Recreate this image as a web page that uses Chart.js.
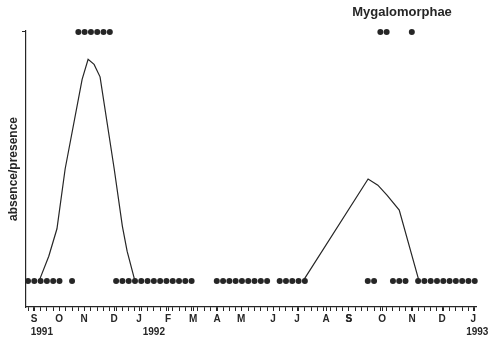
<!DOCTYPE html>
<html>
<head>
<meta charset="utf-8">
<script src="https://cdn.jsdelivr.net/npm/chart.js@4"></script>
<style>
  html, body { margin: 0; padding: 0; background: #fff; }
  canvas { display: block; }
</style>
</head>
<body>
<canvas id="c" width="494" height="340"></canvas>
<script>
// x unit = sampling week, counted from the first sample (late Aug 1991)
const absenceWeeks = [0, 1, 2, 3, 4, 5, 7, 14, 15, 16, 17, 18, 19, 20, 21, 22, 23, 24, 25, 26,
  30, 31, 32, 33, 34, 35, 36, 37, 38, 40, 41, 42, 43, 44, 54, 55, 58, 59, 60,
  62, 63, 64, 65, 66, 67, 68, 69, 70, 71];
const presenceWeeks = [8, 9, 10, 11, 12, 13, 56, 57, 61];

// smoothed curve (null breaks the line between the two humps)
const lineWeeks  = [1.75, 3.3, 4.6, 5.9, 8.6, 9.55, 10.5, 11.45, 13.7, 15.0, 15.75, 17.0, 30, 43.7, 54.05, 55.6, 57.05, 59.0, 62.15];
const lineValues = [0, 0.1, 0.21, 0.45, 0.81, 0.89, 0.87, 0.82, 0.45, 0.22, 0.12, 0, null, 0, 0.41, 0.385, 0.345, 0.285, 0];

const monthWeeks  = [0.95, 4.93, 8.9, 13.67, 17.65, 22.26, 26.23, 30.05, 33.86, 38.95, 42.77, 47.38, 51.0, 56.3, 61.05, 65.8, 70.75];
const monthLabels = ["S", "O", "N", "D", "J", "F", "M", "A", "M", "J", "J", "A", "S", "O", "N", "D", "J"];

const yearWeeks  = [2.2, 20.0, 71.4];
const yearLabels = ["1991", "1992", "1993"];

const chartTitle = "Mygalomorphae";
const ink = "#262626";

const labelMap = new Map(monthWeeks.map((w, i) => [w, monthLabels[i]]));

const textPlugin = {
  id: "texts",
  afterDraw(chart) {
    const c = chart.ctx;
    const xs = chart.scales.x;
    c.save();
    c.fillStyle = ink;
    c.textAlign = "center";
    c.textBaseline = "middle";
    c.font = "bold 13px 'Liberation Sans', Arial, sans-serif";
    c.fillText(chartTitle, 402, 12);
    c.font = "bold 10px 'Liberation Sans', Arial, sans-serif";
    yearLabels.forEach((t, i) => c.fillText(t, xs.getPixelForValue(yearWeeks[i]), 332));
    c.restore();
  }
};

new Chart(document.getElementById("c").getContext("2d"), {
  type: "scatter",
  data: {
    datasets: [
      {
        label: "curve",
        data: lineWeeks.map((w, i) => ({ x: w, y: lineValues[i] })),
        showLine: true,
        spanGaps: false,
        borderColor: ink,
        borderWidth: 1.2,
        pointRadius: 0,
        tension: 0,
        clip: false
      },
      {
        label: "absence",
        data: absenceWeeks.map(w => ({ x: w, y: 0 })),
        pointRadius: 3,
        pointBackgroundColor: ink,
        pointBorderWidth: 0,
        clip: false
      },
      {
        label: "presence",
        data: presenceWeeks.map(w => ({ x: w, y: 1 })),
        pointRadius: 3,
        pointBackgroundColor: ink,
        pointBorderWidth: 0,
        clip: false
      }
    ]
  },
  options: {
    responsive: false,
    animation: false,
    layout: { padding: { top: 31, right: 18, left: 0, bottom: 0 } },
    plugins: {
      legend: { display: false },
      tooltip: { enabled: false }
    },
    scales: {
      x: {
        type: "linear",
        min: -0.32,
        max: 71.2,
        afterFit: s => { s.height = 33; },
        afterBuildTicks: s => {
          const t = [];
          for (let w = 0; w <= 71; w++) t.push({ value: w });
          monthWeeks.forEach(w => t.push({ value: w }));
          s.ticks = t.sort((a, b) => a.value - b.value);
        },
        border: { display: true, color: ink, width: 1.2 },
        grid: { drawOnChartArea: false, drawTicks: true, tickLength: 4, color: ink },
        ticks: {
          autoSkip: false,
          maxRotation: 0,
          padding: 2,
          color: ink,
          font: { family: "'Liberation Sans', Arial, sans-serif", size: 10, weight: "bold" },
          callback: v => labelMap.get(v) || ""
        }
      },
      y: {
        min: -0.104,
        max: 1.004,
        afterFit: s => { s.width = 26; },
        afterBuildTicks: s => { s.ticks = [{ value: 1 }]; },
        border: { display: true, color: ink, width: 1.2 },
        grid: { drawOnChartArea: false, drawTicks: true, tickLength: 4, color: ink },
        ticks: { display: false },
        title: {
          display: true,
          text: "absence/presence",
          color: ink,
          padding: { top: 6, bottom: 0 },
          font: { family: "'Liberation Sans', Arial, sans-serif", size: 12, weight: "bold" }
        }
      }
    }
  },
  plugins: [textPlugin]
});
</script>
</body>
</html>
